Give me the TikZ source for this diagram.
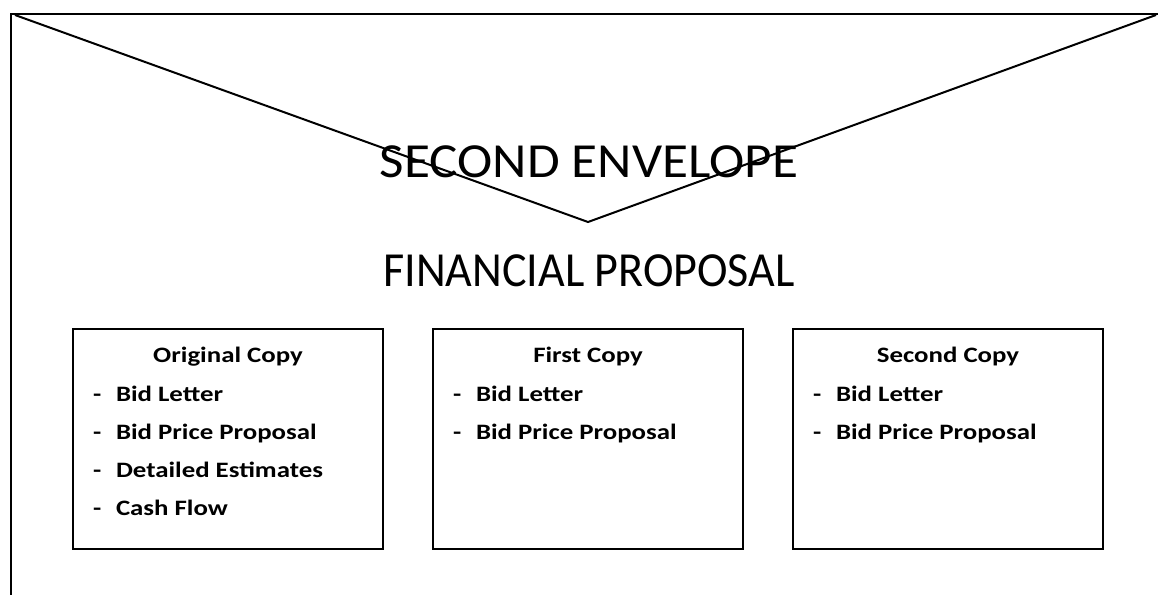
\documentclass[tikz,border=0pt]{standalone}
\usepackage{fontspec}
\setmainfont{Carlito}
% widened / narrowed cuts of the same family for the titles and the lists
\newfontfamily\envfont[FakeStretch=1.085]{Carlito}
\newfontfamily\finfont[FakeStretch=0.94]{Carlito}
\newfontfamily\boxfont[FakeStretch=1.22]{Carlito}
\usetikzlibrary{calc}
\begin{document}
\begin{tikzpicture}[x=1pt,y=-1pt,
  frame/.style={line width=2.8pt},
  flap/.style={line width=2pt, line join=miter},
  copybox/.style={draw, line width=2.4pt, minimum width=310pt, minimum height=220pt, inner sep=0pt},
  title/.style={anchor=base, inner sep=0pt},
  head/.style={font=\boxfont\bfseries\fontsize{22}{22}\selectfont, anchor=base, inner sep=0pt},
  item/.style={font=\boxfont\bfseries\fontsize{22}{22}\selectfont, anchor=base west, inner sep=0pt},
]
\useasboundingbox (0,0) rectangle (1158,594);

% envelope outline and flap
\coordinate (tl) at (11,14);
\coordinate (tr) at (1160,14);
\coordinate (bl) at (11,596);
\draw[frame] (bl) -- (tl) -- (tr);
\coordinate (fl) at (15,15);
\coordinate (apex) at (588,222);
\coordinate (fr) at (1156,15);
\draw[flap] (fl) -- (apex) -- (fr);

% titles
\node[title, font=\envfont\fontsize{49}{49}\selectfont] (env) at (589,177) {SECOND ENVELOPE};
\node[title, font=\finfont\fontsize{49}{49}\selectfont] (fin) at (589,286) {FINANCIAL PROPOSAL};

% the three copies
\node[copybox] (c1) at (228,439) {};
\node[copybox] (c2) at (588,439) {};
\node[copybox] (c3) at (948,439) {};

\node[head] (h1) at ($(c1.north)+(0,35)$) {Original Copy};
\node[head] (h2) at ($(c2.north)+(0,35)$) {First Copy};
\node[head] (h3) at ($(c3.north)+(0,35)$) {Second Copy};

% Original Copy list
\node[item] (d11) at ($(c1.north west)+(21,74)$) {-};
\node[item] (i11) at ($(c1.north west)+(44,74)$) {Bid Letter};
\node[item] (d12) at ($(c1.north west)+(21,112)$) {-};
\node[item] (i12) at ($(c1.north west)+(44,112)$) {Bid Price Proposal};
\node[item] (d13) at ($(c1.north west)+(21,150)$) {-};
\node[item] (i13) at ($(c1.north west)+(44,150)$) {Detailed Estimates};
\node[item] (d14) at ($(c1.north west)+(21,188)$) {-};
\node[item] (i14) at ($(c1.north west)+(44,188)$) {Cash Flow};

% First Copy list
\node[item] (d21) at ($(c2.north west)+(21,74)$) {-};
\node[item] (i21) at ($(c2.north west)+(44,74)$) {Bid Letter};
\node[item] (d22) at ($(c2.north west)+(21,112)$) {-};
\node[item] (i22) at ($(c2.north west)+(44,112)$) {Bid Price Proposal};

% Second Copy list
\node[item] (d31) at ($(c3.north west)+(21,74)$) {-};
\node[item] (i31) at ($(c3.north west)+(44,74)$) {Bid Letter};
\node[item] (d32) at ($(c3.north west)+(21,112)$) {-};
\node[item] (i32) at ($(c3.north west)+(44,112)$) {Bid Price Proposal};
\end{tikzpicture}
\end{document}
